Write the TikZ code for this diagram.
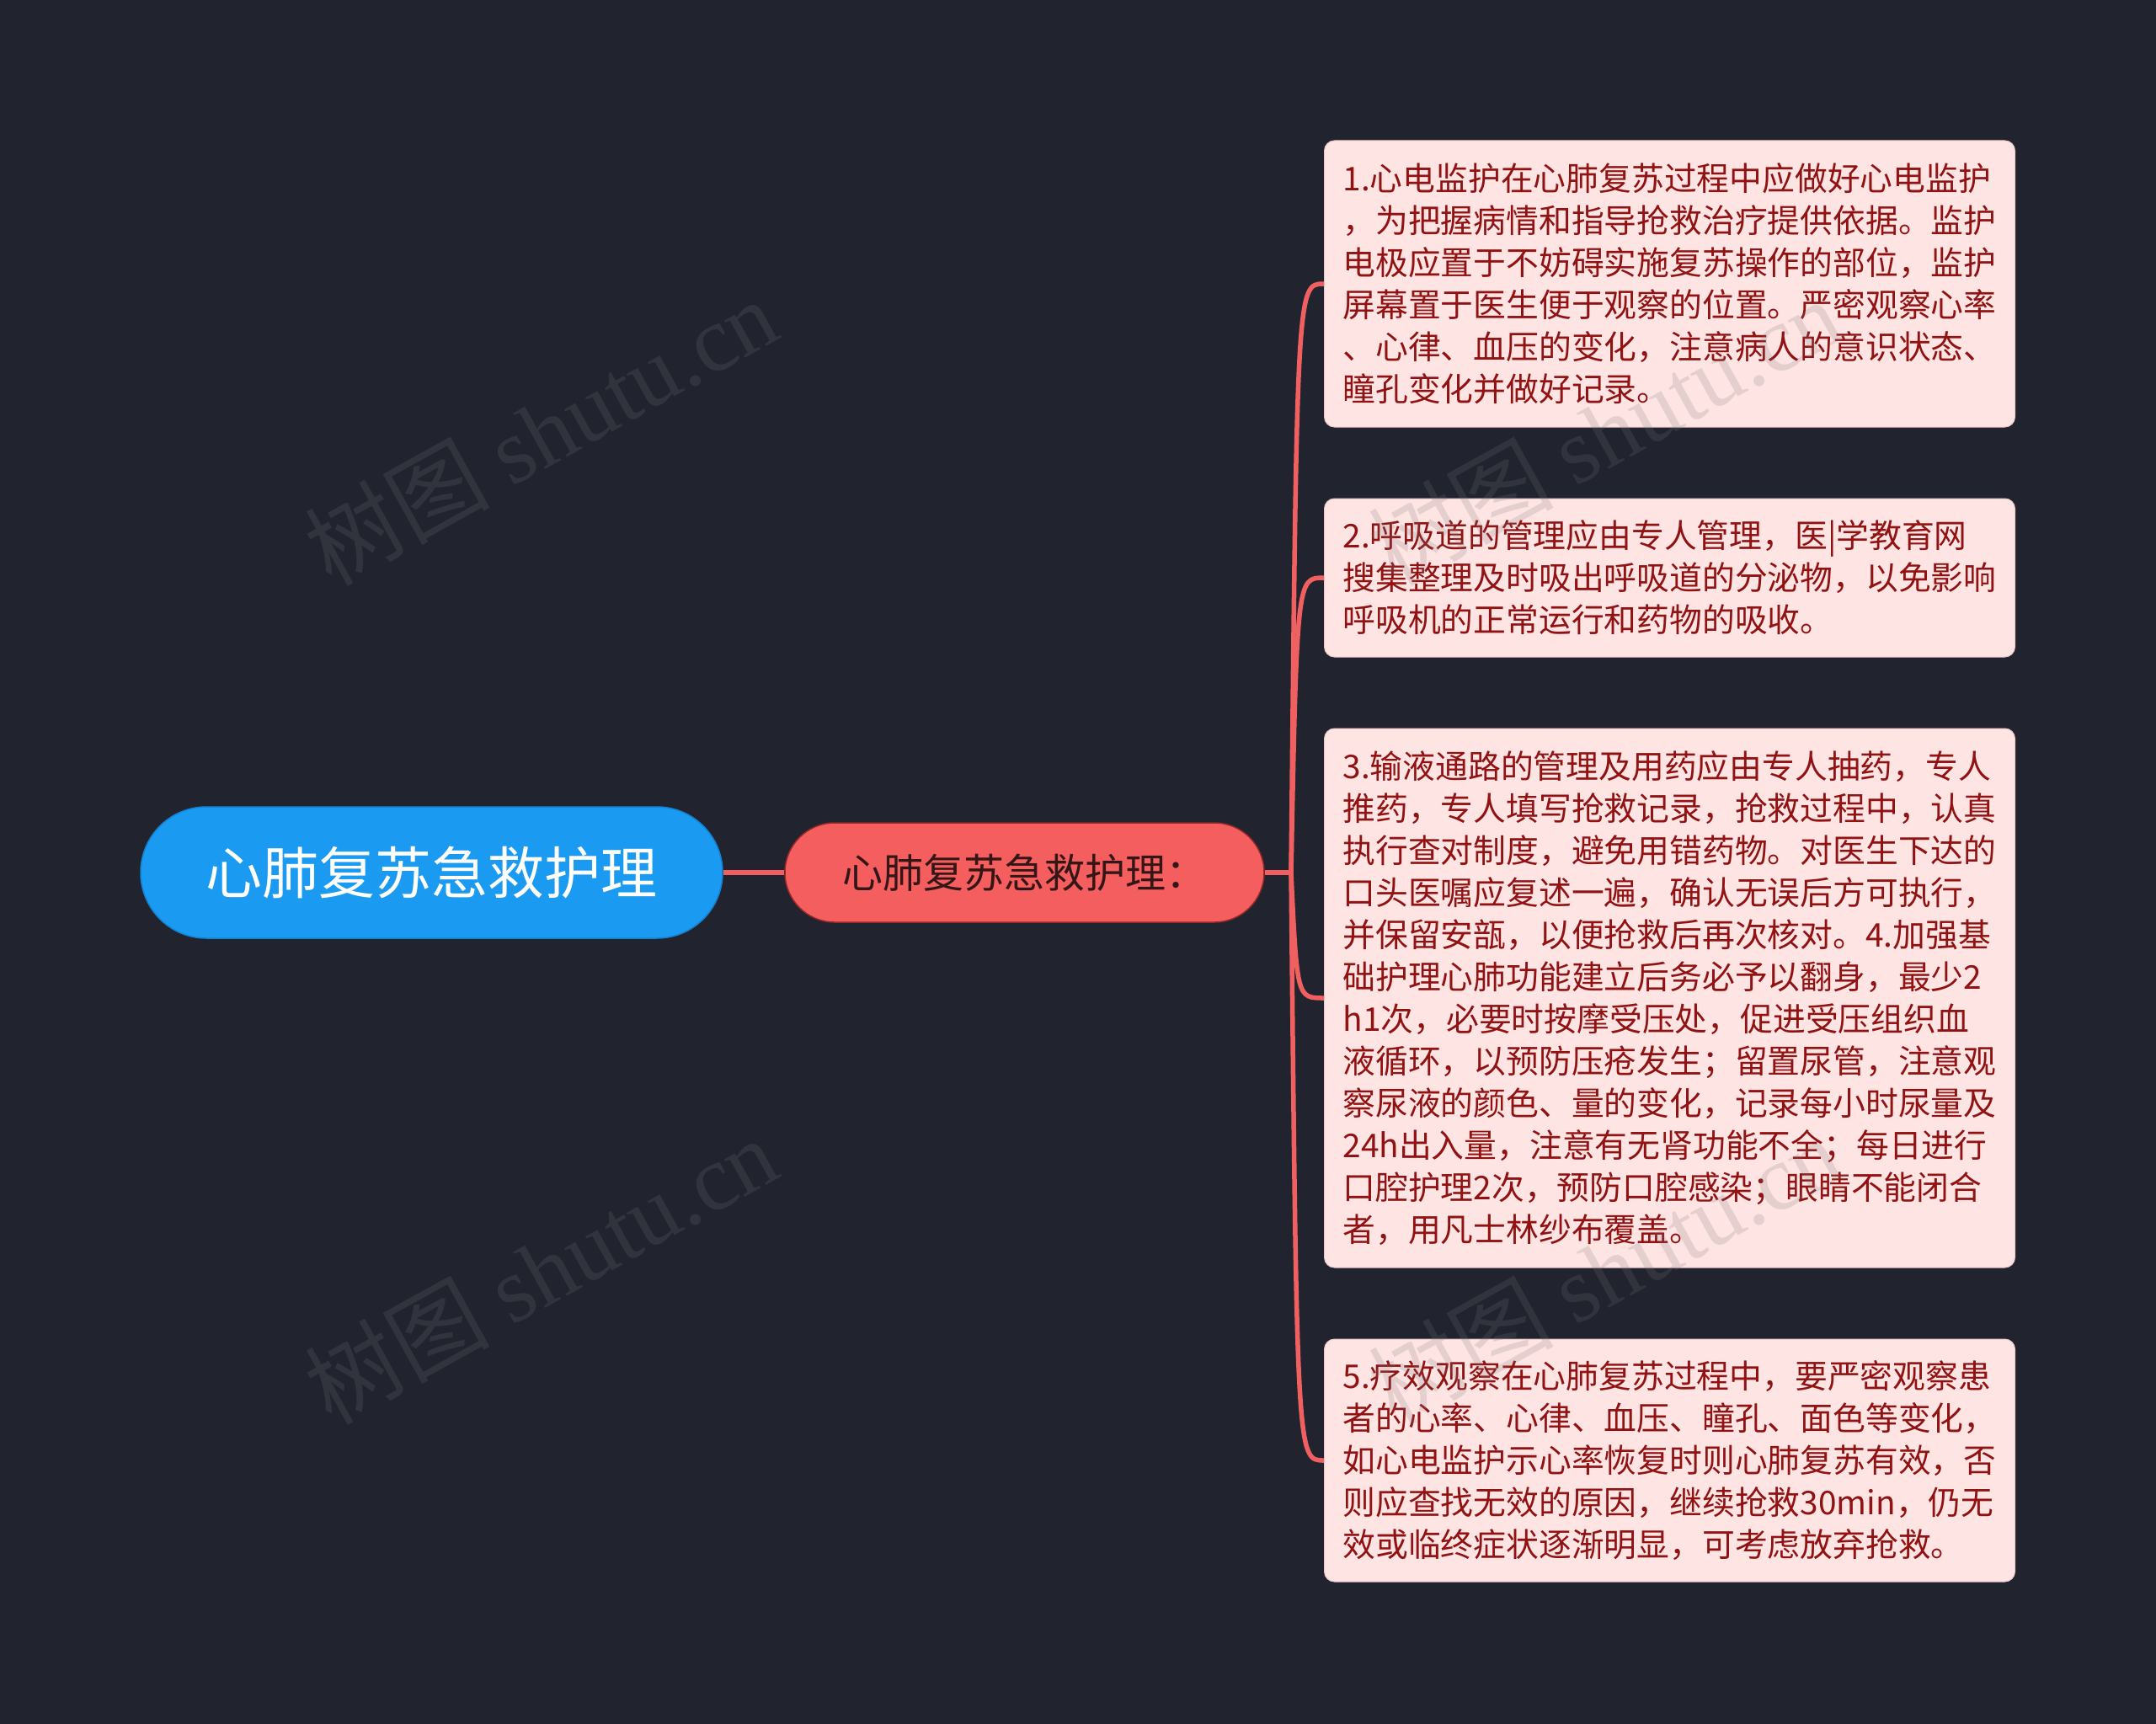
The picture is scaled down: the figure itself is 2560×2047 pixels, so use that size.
\documentclass[tikz,border=0pt]{standalone}
\usepackage{fontspec}
\setmainfont{Noto Sans CJK SC}
\newfontfamily\wmlatin{Liberation Serif}
\usetikzlibrary{calc}
\definecolor{bg}{RGB}{33,36,47}
\definecolor{rootblue}{RGB}{26,154,240}
\definecolor{rootedge}{RGB}{20,130,210}
\definecolor{subred}{RGB}{245,94,94}
\definecolor{subedge}{RGB}{150,40,40}
\definecolor{subtext}{RGB}{52,22,22}
\definecolor{linkred}{RGB}{240,96,96}
\definecolor{leaffill}{RGB}{255,228,228}
\definecolor{leafedge}{RGB}{235,200,200}
\definecolor{leaftext}{RGB}{145,18,18}
\definecolor{wmgray}{RGB}{120,120,120}
\begin{document}
\begin{tikzpicture}[x=1pt,y=-1pt,
  rootnode/.style={fill=rootblue, draw=rootedge, line width=1.5pt, rounded corners=78pt,
    minimum width=691pt, minimum height=156pt, inner sep=0pt, text=white,
    font=\fontsize{67pt}{80pt}\selectfont},
  subnode/.style={fill=subred, draw=subedge, line width=1.5pt, rounded corners=59pt,
    minimum width=569pt, minimum height=118pt, inner sep=0pt, text=subtext,
    font=\fontsize{48pt}{58pt}\selectfont},
  leaf/.style={fill=leaffill, draw=leafedge, line width=1pt, rounded corners=12pt,
    minimum width=820pt, inner xsep=22pt, inner ysep=0pt, text width=776pt, align=left,
    text=leaftext, font=\fontsize{38.8pt}{50pt}\selectfont},
  link/.style={draw=linkred, line width=5.5pt},
  wm/.style={text=wmgray, text opacity=0.2, rotate=29, inner sep=0pt,
    font=\fontsize{110pt}{120pt}\selectfont}
]
\useasboundingbox (0,0) rectangle (2560,2047);
\fill[bg] (0,0) rectangle (2560,2047);

\node[rootnode] (root) at (512.5,1036) {心肺复苏急救护理};
\node[subnode] (sub) at (1216.5,1036) {心肺复苏急救护理：};
\coordinate (j) at (1533,1036);

\node[leaf, minimum height=340pt] (b1) at (1982.5,337) {1.心电监护在心肺复苏过程中应做好心电监护\\
，为把握病情和指导抢救治疗提供依据。监护\\
电极应置于不妨碍实施复苏操作的部位，监护\\
屏幕置于医生便于观察的位置。严密观察心率\\
、心律、血压的变化，注意病人的意识状态、\\
瞳孔变化并做好记录。};

\node[leaf, minimum height=188pt] (b2) at (1982.5,686) {2.呼吸道的管理应由专人管理，医|学教育网\\
搜集整理及时吸出呼吸道的分泌物，以免影响\\
呼吸机的正常运行和药物的吸收。};

\node[leaf, minimum height=640pt] (b3) at (1982.5,1185) {3.输液通路的管理及用药应由专人抽药，专人\\
推药，专人填写抢救记录，抢救过程中，认真\\
执行查对制度，避免用错药物。对医生下达的\\
口头医嘱应复述一遍，确认无误后方可执行，\\
并保留安瓿，以便抢救后再次核对。4.加强基\\
础护理心肺功能建立后务必予以翻身，最少2\\
h1次，必要时按摩受压处，促进受压组织血\\
液循环，以预防压疮发生；留置尿管，注意观\\
察尿液的颜色、量的变化，记录每小时尿量及\\
24h出入量，注意有无肾功能不全；每日进行\\
口腔护理2次，预防口腔感染；眼睛不能闭合\\
者，用凡士林纱布覆盖。};

\node[leaf, minimum height=288pt] (b4) at (1982.5,1734) {5.疗效观察在心肺复苏过程中，要严密观察患\\
者的心率、心律、血压、瞳孔、面色等变化，\\
如心电监护示心率恢复时则心肺复苏有效，否\\
则应查找无效的原因，继续抢救30min，仍无\\
效或临终症状逐渐明显，可考虑放弃抢救。};

\draw[link] (root.east) -- (sub.west);
\draw[link] (sub.east) -- (j);
\foreach \b in {b1,b2,b3,b4}{
  \draw[link] (j) .. controls ($(j|-\b.west)+(7,0)$) and ($(j|-\b.west)+(7,0)$) .. (\b.west);
}

\node[wm] (w1) at (642,512) {树图 {\wmlatin shutu.cn}};
\node[wm] (w2) at (642,1508) {树图 {\wmlatin shutu.cn}};
\node[wm] (w3) at (1905,512) {树图 {\wmlatin shutu.cn}};
\node[wm] (w4) at (1905,1508) {树图 {\wmlatin shutu.cn}};
\end{tikzpicture}
\end{document}
